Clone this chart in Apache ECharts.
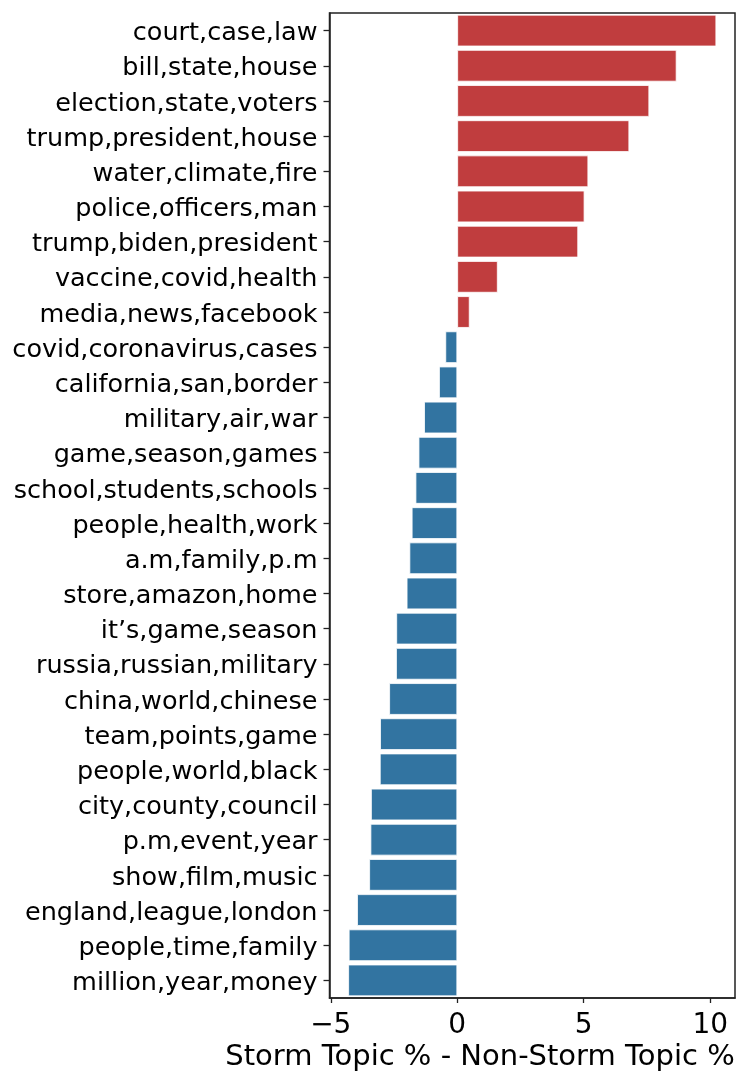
<!DOCTYPE html>
<html>
<head>
<meta charset="utf-8">
<script src="https://cdn.jsdelivr.net/npm/echarts@6/dist/echarts.min.js"></script>
<style>html,body{margin:0;padding:0;background:#fff}#c{width:748px;height:1088px}</style>
</head>
<body>
<div id="c"></div>
<script>
const categories = [
  "court,case,law","bill,state,house","election,state,voters","trump,president,house",
  "water,climate,fire","police,officers,man","trump,biden,president","vaccine,covid,health",
  "media,news,facebook","covid,coronavirus,cases","california,san,border","military,air,war",
  "game,season,games","school,students,schools","people,health,work","a.m,family,p.m",
  "store,amazon,home","it\u2019s,game,season","russia,russian,military","china,world,chinese",
  "team,points,game","people,world,black","city,county,council","p.m,event,year",
  "show,film,music","england,league,london","people,time,family","million,year,money"
];
const values = [
  10.24, 8.67, 7.59, 6.80, 5.18, 5.03, 4.78, 1.60, 0.49,
  -0.47, -0.72, -1.31, -1.53, -1.65, -1.80, -1.89, -2.00, -2.41, -2.42, -2.69,
  -3.05, -3.06, -3.41, -3.43, -3.48, -3.96, -4.29, -4.31
];
const xTicks = [-5, 0, 5, 10];
const xTitle = "Storm Topic % - Non-Storm Topic %";

const chart = echarts.init(document.getElementById('c'), null, {renderer: 'canvas'});
const FONT = 'DejaVu Sans';
chart.setOption({
  animation: false,
  backgroundColor: '#fff',
  textStyle: {fontFamily: FONT},
  grid: {left: 329.5, right: 13, top: 13, bottom: 90, show: true, borderColor: '#222', borderWidth: 1.5, backgroundColor: 'transparent'},
  xAxis: {
    type: 'value', min: -5.05, max: 10.98,
    splitLine: {show: false},
    axisLine: {show: true, onZero: false, lineStyle: {color: '#222', width: 1.5}},
    axisTick: {show: true, length: 5, customValues: xTicks, lineStyle: {color: '#222', width: 1.3}},
    axisLabel: {
      customValues: xTicks, margin: 14, color: '#000', fontSize: 28, fontFamily: FONT,
      formatter: v => v < 0 ? '\u2212' + Math.abs(v) : String(v)
    }
  },
  yAxis: {
    type: 'category', data: categories, inverse: true, position: 'left',
    axisLine: {show: true, onZero: false, lineStyle: {color: '#222', width: 1.5}},
    axisTick: {show: true, interval: 0, length: 6, alignWithLabel: true, lineStyle: {color: '#222', width: 1.3}},
    axisLabel: {
      margin: 12, interval: 0,
      formatter: v => '{a|' + v + '}',
      rich: {a: {color: '#000', fontSize: 25.5, fontFamily: FONT, padding: [6, 0, 0, 0]}}
    }
  },
  series: [{
    type: 'bar', data: values, barCategoryGap: '10%',
    itemStyle: {
      color: p => p.value >= 0 ? '#c03d3e' : '#3274a1',
      borderColor: '#fff', borderWidth: 0.8
    }
  }],
  graphic: [{
    type: 'text', x: 480, y: 1057,
    style: {text: xTitle, font: '29px "DejaVu Sans"', fill: '#000', textAlign: 'center', textVerticalAlign: 'middle'}
  }]
});
</script>
</body>
</html>
